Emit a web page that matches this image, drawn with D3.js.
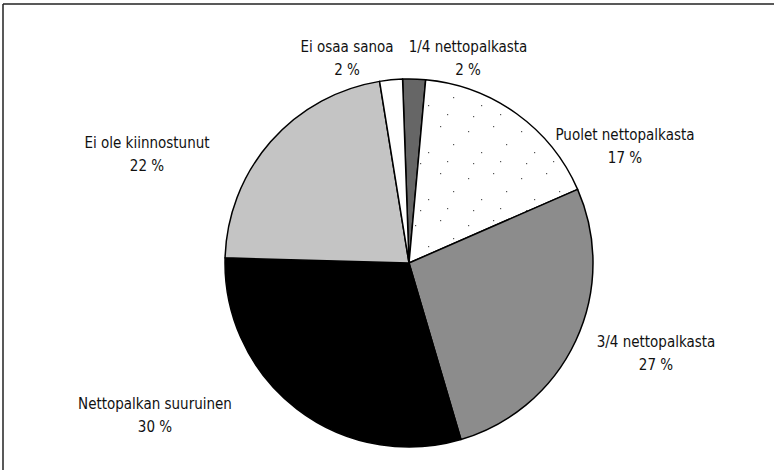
<!DOCTYPE html>
<html>
<head>
<meta charset="utf-8">
<script src="https://cdn.jsdelivr.net/npm/d3@7"></script>
<style>
  html, body { margin: 0; padding: 0; background: #fff; }
  svg { display: block; }
</style>
</head>
<body>
<div id="main"></div>
<script>
// data
var categories = ["1/4 nettopalkasta", "Puolet nettopalkasta", "3/4 nettopalkasta",
                  "Nettopalkan suuruinen", "Ei ole kiinnostunut", "Ei osaa sanoa"];
var values = [2, 17, 27, 30, 22, 2];
var valueLabels = ["2 %", "17 %", "27 %", "30 %", "22 %", "2 %"];

// layout
var width = 774;
var height = 470;
var cx = 409, cy = 263;
var radius = 184;
var startDeg = -2;
var fills = ["#666666", "#ffffff", "#8c8c8c", "#000000", "#c4c4c4", "#ffffff"];
// label centres, placed by hand around the pie like in the print
var labelXY = [[468, 52], [625, 140], [656, 347], [155, 409], [147, 148], [347, 52]];

var svg = d3.select("#main").append("svg")
    .attr("width", width)
    .attr("height", height);

// frame (only top and left edges show in the scan)
svg.append("line")
    .attr("x1", 3).attr("y1", 4).attr("x2", width).attr("y2", 4)
    .attr("stroke", "#222").attr("stroke-width", 1.5);
svg.append("line")
    .attr("x1", 3).attr("y1", 4).attr("x2", 3).attr("y2", height)
    .attr("stroke", "#222").attr("stroke-width", 1.5);

// sparse scan dots for the "Puolet" slice
var defs = svg.append("defs");
var pat = defs.append("pattern")
    .attr("id", "dots")
    .attr("patternUnits", "userSpaceOnUse")
    .attr("width", 53).attr("height", 47);
pat.append("rect").attr("width", 53).attr("height", 47).attr("fill", "#fff");
var specks = [[6, 9], [31, 4], [44, 22], [19, 30], [38, 39], [11, 41]];
specks.forEach(function(p) {
    pat.append("rect").attr("x", p[0]).attr("y", p[1])
        .attr("width", 1.2).attr("height", 1.2).attr("fill", "#555");
});

var pie = d3.pie()
    .sort(null)
    .value(function(d) { return d; })
    .startAngle(startDeg * Math.PI / 180)
    .endAngle((360 + startDeg) * Math.PI / 180);

var arc = d3.arc()
    .innerRadius(0)
    .outerRadius(radius);

var g = svg.append("g")
    .attr("transform", "translate(" + cx + "," + cy + ")");

g.selectAll("path")
    .data(pie(values))
    .enter().append("path")
    .attr("d", arc)
    .attr("fill", function(d, i) { return i == 1 ? "url(#dots)" : fills[i]; })
    .attr("stroke", "#000")
    .attr("stroke-width", 1.5)
    .attr("stroke-linejoin", "round");

for (var i = 0; i < categories.length; i++) {
    var t = svg.append("text")
        .attr("x", labelXY[i][0])
        .attr("y", labelXY[i][1])
        .attr("text-anchor", "middle")
        .attr("font-family", "'Liberation Sans Narrow', 'DejaVu Sans Condensed', sans-serif")
        .attr("font-size", "15px")
        .attr("fill", "#111");
    t.append("tspan").attr("x", labelXY[i][0]).text(categories[i]);
    t.append("tspan").attr("x", labelXY[i][0]).attr("dy", 23).text(valueLabels[i]);
}
</script>
</body>
</html>
